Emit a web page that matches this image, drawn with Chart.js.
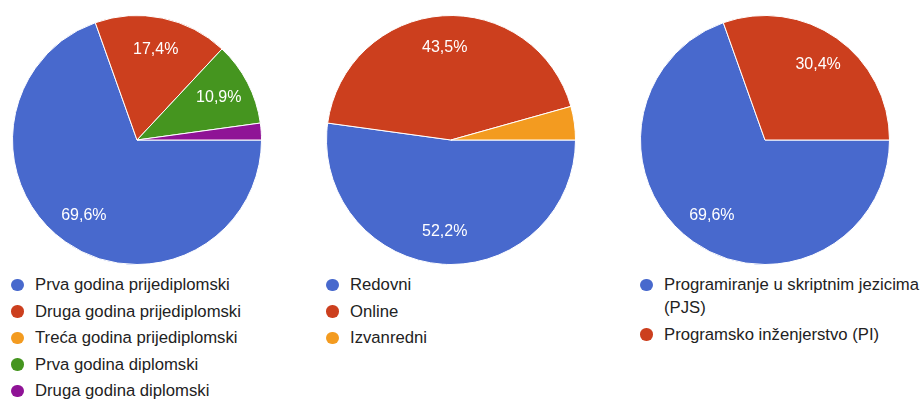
<!DOCTYPE html>
<html>
<head>
<meta charset="utf-8">
<script src="https://cdn.jsdelivr.net/npm/chart.js@4/dist/chart.umd.min.js"></script>
<style>
  body { margin: 0; background: #fff; width: 921px; height: 399px; overflow: hidden; position: relative;
         font-family: "Liberation Sans", Arial, sans-serif; }
  .pie { position: absolute; top: 15px; width: 250px; height: 250px; }
  .legend { position: absolute; top: 273px; margin: 0; padding: 0; list-style: none; font-size: 16.7px; color: #222; }
  .legend li { position: relative; padding-left: 24px; line-height: 23px; margin-bottom: 3.5px; }
  .legend li span { position: absolute; left: 0; top: 5.5px; width: 12.5px; height: 12.5px; border-radius: 50%; }
</style>
</head>
<body>
<canvas id="c1" class="pie" width="250" height="250" style="left:11.5px"></canvas>
<canvas id="c2" class="pie" width="250" height="250" style="left:326px"></canvas>
<canvas id="c3" class="pie" width="250" height="250" style="left:639.5px"></canvas>
<ul id="l1" class="legend" style="left:11px"></ul>
<ul id="l2" class="legend" style="left:326px"></ul>
<ul id="l3" class="legend" style="left:640px; width:286px"></ul>
<script>
// answer counts (46 responses per question)
var yearLabels = ['Prva godina prijediplomski', 'Druga godina prijediplomski', 'Treća godina prijediplomski', 'Prva godina diplomski', 'Druga godina diplomski'];
var yearCounts = [32, 8, 0, 5, 1];

var modeLabels = ['Redovni', 'Online', 'Izvanredni'];
var modeCounts = [24, 20, 2];

var courseLabels = ['Programiranje u skriptnim jezicima (PJS)', 'Programsko inženjerstvo (PI)'];
var courseCounts = [32, 14];

var palette = ['#4869cd', '#cc3f1e', '#f39b20', '#45951f', '#8f1396'];

// white percentage text inside each slice, small slices left blank
var sliceLabels = {
  id: 'sliceLabels',
  afterDatasetsDraw: function(chart) {
    var ctx = chart.ctx;
    var ds = chart.data.datasets[0];
    var total = ds.data.reduce(function(a, b) { return a + b; }, 0);
    var meta = chart.getDatasetMeta(0);
    ctx.save();
    ctx.fillStyle = '#fff';
    ctx.font = '16px "Liberation Sans", Arial, sans-serif';
    ctx.textAlign = 'center';
    ctx.textBaseline = 'middle';
    meta.data.forEach(function(arc, i) {
      var pct = ds.data[i] / total * 100;
      if (pct < 5) return;
      var mid = (arc.startAngle + arc.endAngle) / 2;
      var r = arc.outerRadius * 0.74;
      var txt = pct.toFixed(1).replace('.', ',') + '%';
      ctx.fillText(txt, arc.x + Math.cos(mid) * r, arc.y + Math.sin(mid) * r);
    });
    ctx.restore();
  }
};

function makePie(id, legendId, labels, counts) {
  var chart = new Chart(document.getElementById(id), {
    type: 'pie',
    data: {
      labels: labels,
      datasets: [{
        data: counts,
        backgroundColor: palette.slice(0, counts.length),
        borderColor: '#fff',
        borderWidth: 1
      }]
    },
    options: {
      responsive: false,
      animation: false,
      rotation: 90,
      layout: { padding: 0 },
      plugins: { legend: { display: false }, tooltip: { enabled: false } }
    },
    plugins: [sliceLabels]
  });

  var ul = document.getElementById(legendId);
  labels.forEach(function(name, i) {
    var li = document.createElement('li');
    var dot = document.createElement('span');
    dot.style.background = palette[i];
    li.appendChild(dot);
    li.appendChild(document.createTextNode(name));
    ul.appendChild(li);
  });
  return chart;
}

makePie('c1', 'l1', yearLabels, yearCounts);
makePie('c2', 'l2', modeLabels, modeCounts);
makePie('c3', 'l3', courseLabels, courseCounts);
</script>
</body>
</html>
